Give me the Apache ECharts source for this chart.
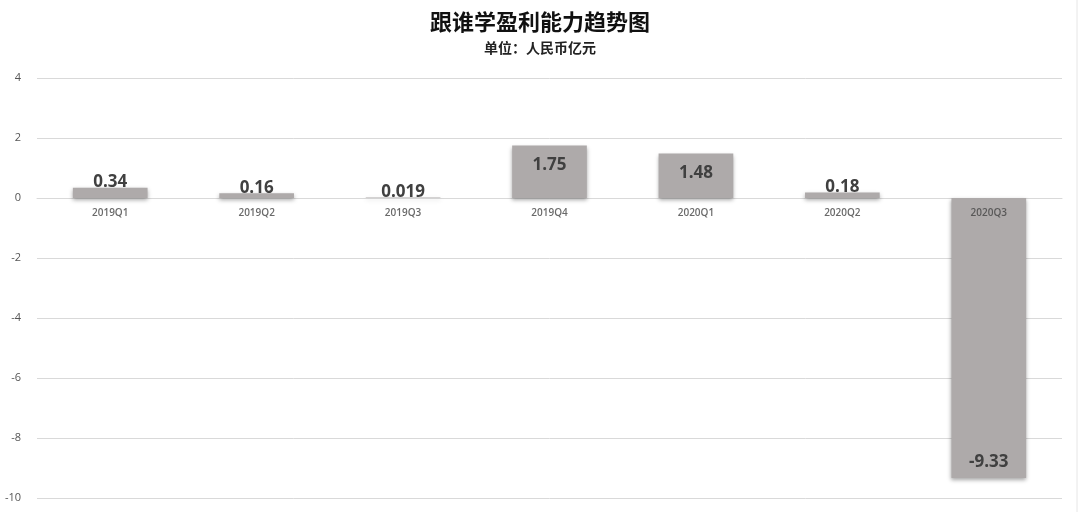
<!DOCTYPE html>
<html>
<head>
<meta charset="utf-8">
<script src="https://cdn.jsdelivr.net/npm/echarts@6/dist/echarts.min.js"></script>
<style>
    html, body { margin: 0; padding: 0; background: #fff; }
    #chart { width: 1080px; height: 512px; }
</style>
</head>
<body>
<div id="chart"></div>
<script>
// 季度
var quarters = ['2019Q1', '2019Q2', '2019Q3', '2019Q4', '2020Q1', '2020Q2', '2020Q3'];
// 盈利（亿元）
var profits = [0.34, 0.16, 0.019, 1.75, 1.48, 0.18, -9.33];
// 纵轴刻度
var yTicks = [-10, -8, -6, -4, -2, 0, 2, 4];

(function() {
    var myChart = echarts.init(document.getElementById('chart'));

    // 小柱子标签放上面，大柱子放里面
    var barData = profits.map(function(v) {
        var pos = 'insideTop', dist = 11;
        if (Math.abs(v) < 1) { pos = 'top'; dist = -3; }
        else if (v < 0) { pos = 'insideBottom'; dist = 7; }
        return {
            value: v,
            label: { position: pos, distance: dist }
        };
    });

    var option = {
        backgroundColor: '#fff',
        animation: false,
        title: {
            text: '跟谁学盈利能力趋势图',
            subtext: '单位：人民币亿元',
            left: 'center',
            top: 6,
            itemGap: 8,
            textStyle: {
                fontFamily: 'Noto Sans CJK SC',
                fontSize: 22,
                fontWeight: 'bold',
                color: '#111'
            },
            subtextStyle: {
                fontFamily: 'Noto Sans CJK SC',
                fontSize: 14,
                fontWeight: 'bold',
                color: '#222'
            }
        },
        grid: {
            top: 78,
            bottom: 14,
            left: 37,
            right: 18,
            containLabel: false,
            outerBoundsMode: 'none'
        },
        xAxis: {
            type: 'category',
            data: quarters,
            axisLine: { show: true, onZero: true, lineStyle: { color: '#d9d9d9' } },
            axisTick: { show: false },
            axisLabel: { show: false }
        },
        yAxis: {
            type: 'value',
            min: yTicks[0],
            max: yTicks[yTicks.length - 1],
            interval: 2,
            axisLine: { show: false },
            axisTick: { show: false },
            axisLabel: {
                color: '#555',
                fontSize: 11,
                margin: 16,
                fontFamily: 'Open Sans'
            },
            splitLine: {
                lineStyle: { color: '#d9d9d9', width: 1 }
            }
        },
        series: [{
            type: 'bar',
            barWidth: '51%',
            data: barData,
            itemStyle: {
                color: '#aeaaaa',
                shadowColor: 'rgba(0,0,0,0.35)',
                shadowBlur: 4,
                shadowOffsetY: 2
            },
            label: {
                show: true,
                color: '#404040',
                fontSize: 17,
                fontWeight: 'bold',
                fontFamily: 'Open Sans'
            }
        }, {
            // 类目名放在零线下方
            type: 'scatter',
            data: quarters.map(function() { return 0; }),
            symbolSize: 0,
            silent: true,
            z: 10,
            label: {
                show: true,
                position: 'bottom',
                distance: 10,
                color: '#444',
                fontSize: 10,
                fontWeight: 600,
                fontFamily: 'Open Sans',
                formatter: function(p) { return quarters[p.dataIndex]; }
            }
        }],
        graphic: [{
            type: 'line',
            shape: { x1: 1077, y1: 0, x2: 1077, y2: 512 },
            style: { stroke: '#e6e6e6', lineWidth: 1 }
        }]
    };
    myChart.setOption(option);
})();
</script>
</body>
</html>
